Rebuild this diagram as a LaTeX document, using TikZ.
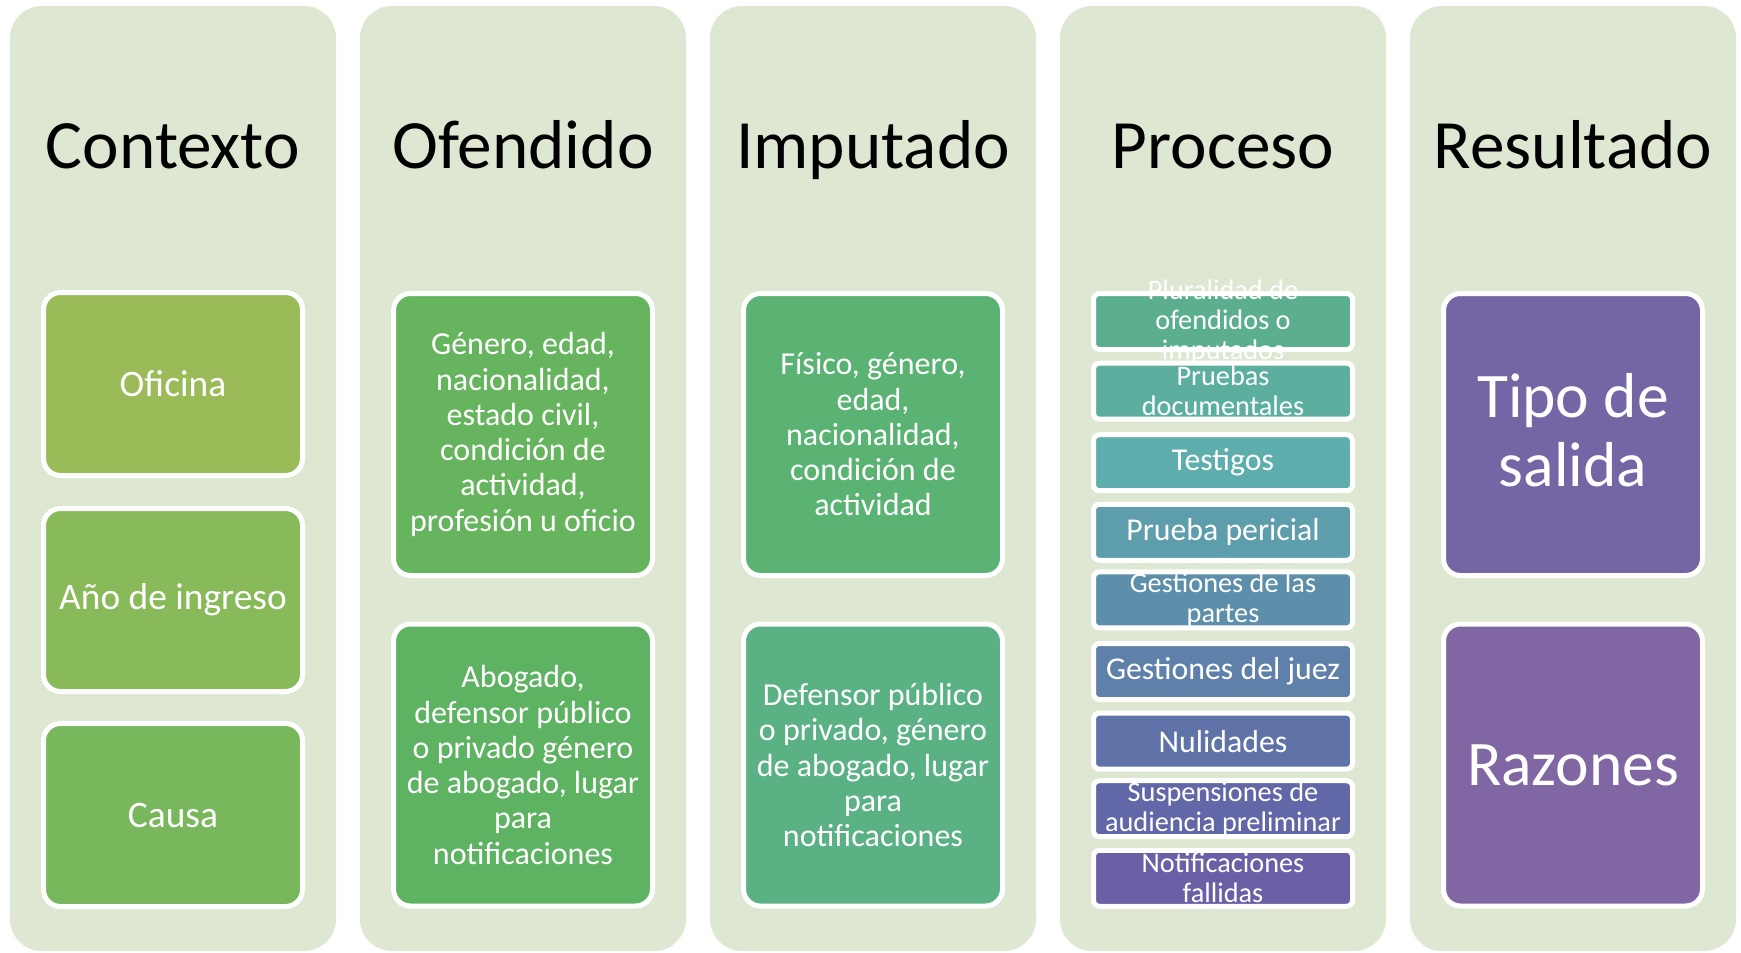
\documentclass[tikz,border=0pt]{standalone}
\usepackage{fontspec}
\setmainfont{Carlito}
\definecolor{colbg}{HTML}{DEE7D1}
\definecolor{cOfi}{HTML}{9BBB59}
\definecolor{cAno}{HTML}{89BA5A}
\definecolor{cCau}{HTML}{78B75C}
\definecolor{cOf1}{HTML}{66B55E}
\definecolor{cOf2}{HTML}{5EB363}
\definecolor{cIm1}{HTML}{5AB372}
\definecolor{cIm2}{HTML}{5AB184}
\definecolor{cP1}{HTML}{5BAF8E}
\definecolor{cP2}{HTML}{5CAF9F}
\definecolor{cP3}{HTML}{5DAEAD}
\definecolor{cP4}{HTML}{5D9DAC}
\definecolor{cP5}{HTML}{5E8FAA}
\definecolor{cP6}{HTML}{5F81A9}
\definecolor{cP7}{HTML}{6073A8}
\definecolor{cP8}{HTML}{6167A7}
\definecolor{cP9}{HTML}{6960A5}
\definecolor{cR1}{HTML}{7466A5}
\definecolor{cR2}{HTML}{8066A3}
\begin{document}
\begin{tikzpicture}[x=0.5pt,y=-0.5pt,
  col/.style={fill=colbg, rounded corners=16pt, minimum width=163pt, minimum height=472.5pt, inner sep=0pt},
  head/.style={font=\fontsize{34.6}{41}\selectfont, text=black, anchor=base, inner sep=0pt},
  bigbox/.style={draw=white, line width=2.5pt, rounded corners=8.5pt, minimum width=129.5pt, text=white, align=center, inner sep=0pt},
  ctx/.style={bigbox, minimum height=91.5pt, font=\fontsize{18.7}{22}\selectfont},
  tall/.style={bigbox, minimum height=141pt, font=\fontsize{16}{17.65}\selectfont},
  res/.style={bigbox, minimum height=141pt, font=\fontsize{31.75}{34.5}\selectfont},
  rtext/.style={text=white, align=center, inner sep=0pt, font=\fontsize{31.75}{34.5}\selectfont, yshift=2.2pt},
  pbox/.style={draw=white, line width=2.5pt, rounded corners=3pt, minimum width=129.5pt, minimum height=28pt, text=white, align=center, inner sep=0pt},
  pone/.style={pbox, font=\fontsize{15.9}{17}\selectfont, yshift=-1pt},
  ptext/.style={text=white, align=center, inner sep=0pt, font=\fontsize{14.15}{15}\selectfont}]
\useasboundingbox (0,0) rectangle (1741,953);
% columns
\node[col] (c1) at (173,478.5) {};
\node[col] (c2) at (523,478.5) {};
\node[col] (c3) at (873,478.5) {};
\node[col] (c4) at (1223,478.5) {};
\node[col] (c5) at (1573,478.5) {};
% headings
\node[head] (h1) at (173,168) {Contexto};
\node[head] (h2) at (523,168) {Ofendido};
\node[head] (h3) at (873,168) {Imputado};
\node[head] (h4) at (1223,168) {Proceso};
\node[head] (h5) at (1573,168) {Resultado};
% Contexto
\node[ctx, fill=cOfi] (ofi) at (173,384) {Oficina};
\node[ctx, fill=cAno] (ano) at (173,600) {Año de ingreso};
\node[ctx, fill=cCau] (cau) at (173,815) {Causa};
% Ofendido
\node[tall, fill=cOf1] (of1) at (523,434.5) {Género, edad,\\ nacionalidad,\\ estado civil,\\ condición de\\ actividad,\\ profesión u oficio};
\node[tall, fill=cOf2] (of2) at (523,765) {Abogado,\\ defensor público\\ o privado género\\ de abogado, lugar\\ para\\ notificaciones};
% Imputado
\node[tall, fill=cIm1] (im1) at (873,434.5) {Físico, género,\\ edad,\\ nacionalidad,\\ condición de\\ actividad};
\node[tall, fill=cIm2] (im2) at (873,765) {Defensor público\\ o privado, género\\ de abogado, lugar\\ para\\ notificaciones};
% Proceso
\node[pbox, fill=cP1, label={[ptext, name=t1]center:{Pluralidad de\\ ofendidos o\\ imputados}}] (p1) at (1223,321.5) {};
\node[pbox, fill=cP2, label={[ptext, name=t2]center:{Pruebas\\ documentales}}] (p2) at (1223,391.1) {};
\node[pone, fill=cP3] (p3) at (1223,460.7) {Testigos};
\node[pone, fill=cP4] (p4) at (1223,530.3) {Prueba pericial};
\node[pbox, fill=cP5, label={[ptext, name=t5]center:{Gestiones de las\\ partes}}] (p5) at (1223,599.9) {};
\node[pone, fill=cP6] (p6) at (1223,669.5) {Gestiones del juez};
\node[pone, fill=cP7] (p7) at (1223,739.1) {Nulidades};
\node[pbox, fill=cP8, label={[ptext, name=t8]center:{Suspensiones de\\ audiencia preliminar}}] (p8) at (1223,808.7) {};
\node[pbox, fill=cP9, label={[ptext, name=t9]center:{Notificaciones\\ fallidas}}] (p9) at (1223,878.3) {};
% Resultado
\node[res, fill=cR1, label={[rtext, name=tr1]center:{Tipo de\\ salida}}] (r1) at (1573,434.5) {};
\node[res, fill=cR2] (r2) at (1573,765) {Razones};
\end{tikzpicture}
\end{document}
